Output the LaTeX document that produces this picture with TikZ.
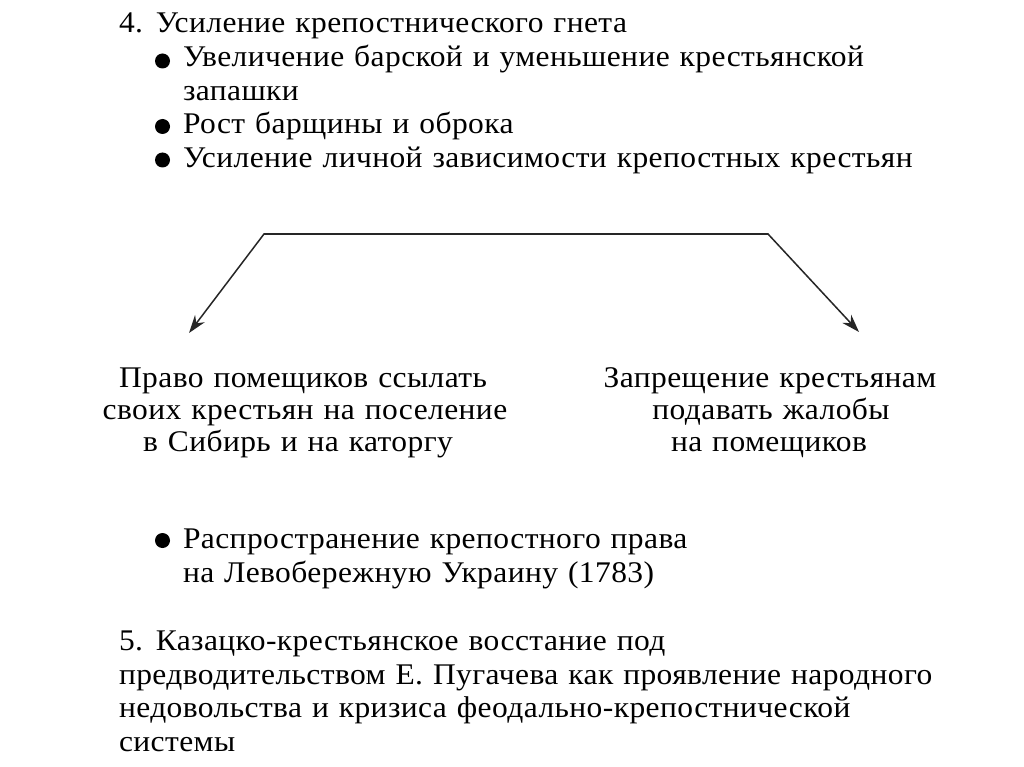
\documentclass[tikz,border=0pt]{standalone}
\usepackage{fontspec}
\setmainfont{Liberation Serif}[FakeStretch=1.05, LetterSpace=1.4, WordSpace=1.2]
\usetikzlibrary{arrows.meta}
\tikzset{
  txt/.style={inner sep=0pt, outer sep=0pt, font=\fontsize{30}{36}\selectfont, text=black},
  lt/.style={txt, anchor=base west},
  ct/.style={txt, anchor=base},
  bul/.style={circle, fill=black, inner sep=0pt, minimum size=15pt},
  conn/.style={draw=black!85, line width=1.5pt, -{Stealth[length=18pt,width=12pt]}}
}
\begin{document}
\begin{tikzpicture}[x=1pt,y=-1pt]
\useasboundingbox[fill=white] (0,0) rectangle (1024,767);
% top block
\node[lt] (t1) at (119,33) {4. Усиление крепостнического гнета};
\node[bul] (b1) at (162.5,61) {};
\node[lt] (t2) at (183,67) {Увеличение барской и уменьшение крестьянской};
\node[lt] (t3) at (183,100.5) {запашки};
\node[bul] (b2) at (162.5,126.5) {};
\node[lt] (t4) at (183,134) {Рост барщины и оброка};
\node[bul] (b3) at (162.5,160) {};
\node[lt] (t5) at (183,167.5) {Усиление личной зависимости крепостных крестьян};
% connectors
\coordinate (cl) at (264,234);
\coordinate (cr) at (768,234);
\coordinate (al) at (189,333);
\coordinate (ar) at (859,332);
\draw[conn] (cr) -- (cl) -- (al);
\draw[conn] (cl) -- (cr) -- (ar);
% middle blocks
\node[ct] (l1) at (303,387) {Право помещиков ссылать};
\node[ct] (l2) at (305,419) {своих крестьян на поселение};
\node[ct] (l3) at (298,451) {в Сибирь и на каторгу};
\node[ct] (r1) at (770,387) {Запрещение крестьянам};
\node[ct] (r2) at (771,419) {подавать жалобы};
\node[ct] (r3) at (769,451) {на помещиков};
% bottom
\node[bul] (b4) at (162.5,540.5) {};
\node[lt] (u1) at (183,548) {Распространение крепостного права};
\node[lt] (u2) at (183,582) {на Левобережную Украину (1783)};
\node[lt] (f1) at (119,650) {5. Казацко-крестьянское восстание под};
\node[lt] (f2) at (119,684) {предводительством Е. Пугачева как проявление народного};
\node[lt] (f3) at (119,717) {недовольства и кризиса феодально-крепостнической};
\node[lt] (f4) at (119,751) {системы};
\end{tikzpicture}
\end{document}
